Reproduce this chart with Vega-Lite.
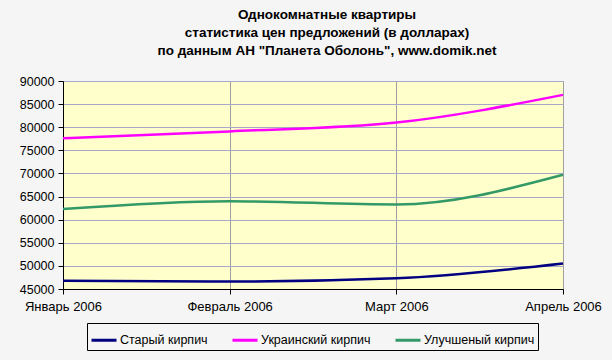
{
  "$schema": "https://vega.github.io/schema/vega-lite/v6.json",
  "autosize": "none",
  "width": 500,
  "height": 208,
  "padding": {"left": 63, "top": 81, "right": 49, "bottom": 71},
  "background": "#F5F5F5",
  "title": {
    "text": ["Однокомнатные квартиры", "статистика цен предложений (в долларах)", "по данным АН \"Планета Оболонь\", www.domik.net"],
    "font": "Liberation Sans",
    "fontSize": 13.5,
    "fontWeight": "bold",
    "color": "#000000",
    "lineHeight": 18,
    "anchor": "middle",
    "dx": 14,
    "offset": 18
  },
  "data": {
    "values": [
      {"month": "Январь 2006", "series": "Старый кирпич", "price": 46800},
      {"month": "Февраль 2006", "series": "Старый кирпич", "price": 46600},
      {"month": "Март 2006", "series": "Старый кирпич", "price": 47300},
      {"month": "Апрель 2006", "series": "Старый кирпич", "price": 50500},
      {"month": "Январь 2006", "series": "Украинский кирпич", "price": 77600},
      {"month": "Февраль 2006", "series": "Украинский кирпич", "price": 79100},
      {"month": "Март 2006", "series": "Украинский кирпич", "price": 81000},
      {"month": "Апрель 2006", "series": "Украинский кирпич", "price": 87000},
      {"month": "Январь 2006", "series": "Улучшеный кирпич", "price": 62300},
      {"month": "Февраль 2006", "series": "Улучшеный кирпич", "price": 64000},
      {"month": "Март 2006", "series": "Улучшеный кирпич", "price": 63300},
      {"month": "Апрель 2006", "series": "Улучшеный кирпич", "price": 69700}
    ]
  },
  "mark": {"type": "line", "interpolate": "monotone", "strokeWidth": 2.5},
  "encoding": {
    "x": {
      "field": "month",
      "type": "ordinal",
      "sort": ["Январь 2006", "Февраль 2006", "Март 2006", "Апрель 2006"],
      "scale": {"type": "point", "padding": 0},
      "axis": {
        "title": null,
        "labelAngle": 0,
        "labelFont": "Liberation Sans",
        "labelFontSize": 13,
        "labelColor": "#000000",
        "labelPadding": 6,
        "tickSize": 5,
        "tickColor": "#000000",
        "domainColor": "#000000",
        "grid": true,
        "gridColor": "#A0A0A0",
        "labelOverlap": false
      }
    },
    "y": {
      "field": "price",
      "type": "quantitative",
      "scale": {"domain": [45000, 90000], "nice": false, "zero": false},
      "axis": {
        "title": null,
        "values": [45000, 50000, 55000, 60000, 65000, 70000, 75000, 80000, 85000, 90000],
        "format": "d",
        "labelFont": "Liberation Sans",
        "labelFontSize": 12.5,
        "labelColor": "#000000",
        "labelPadding": 4,
        "tickSize": 5,
        "tickColor": "#000000",
        "domainColor": "#000000",
        "grid": true,
        "gridColor": "#A8A8C8"
      }
    },
    "color": {
      "field": "series",
      "type": "nominal",
      "scale": {
        "domain": ["Старый кирпич", "Украинский кирпич", "Улучшеный кирпич"],
        "range": ["#000080", "#FF00FF", "#339966"]
      },
      "legend": {
        "title": null,
        "orient": "none",
        "direction": "horizontal",
        "columns": 3,
        "legendX": 24,
        "legendY": 242,
        "padding": 3,
        "strokeColor": "#000000",
        "symbolType": "stroke",
        "symbolSize": 625,
        "symbolStrokeWidth": 3,
        "labelFont": "Liberation Sans",
        "labelFontSize": 12.5,
        "labelColor": "#000000",
        "labelOffset": 2,
        "columnPadding": 18,
        "labelLimit": 300
      }
    }
  },
  "config": {
    "view": {"fill": "#FFFFCC", "stroke": "#808080"},
    "axis": {"gridOpacity": 1}
  }
}
